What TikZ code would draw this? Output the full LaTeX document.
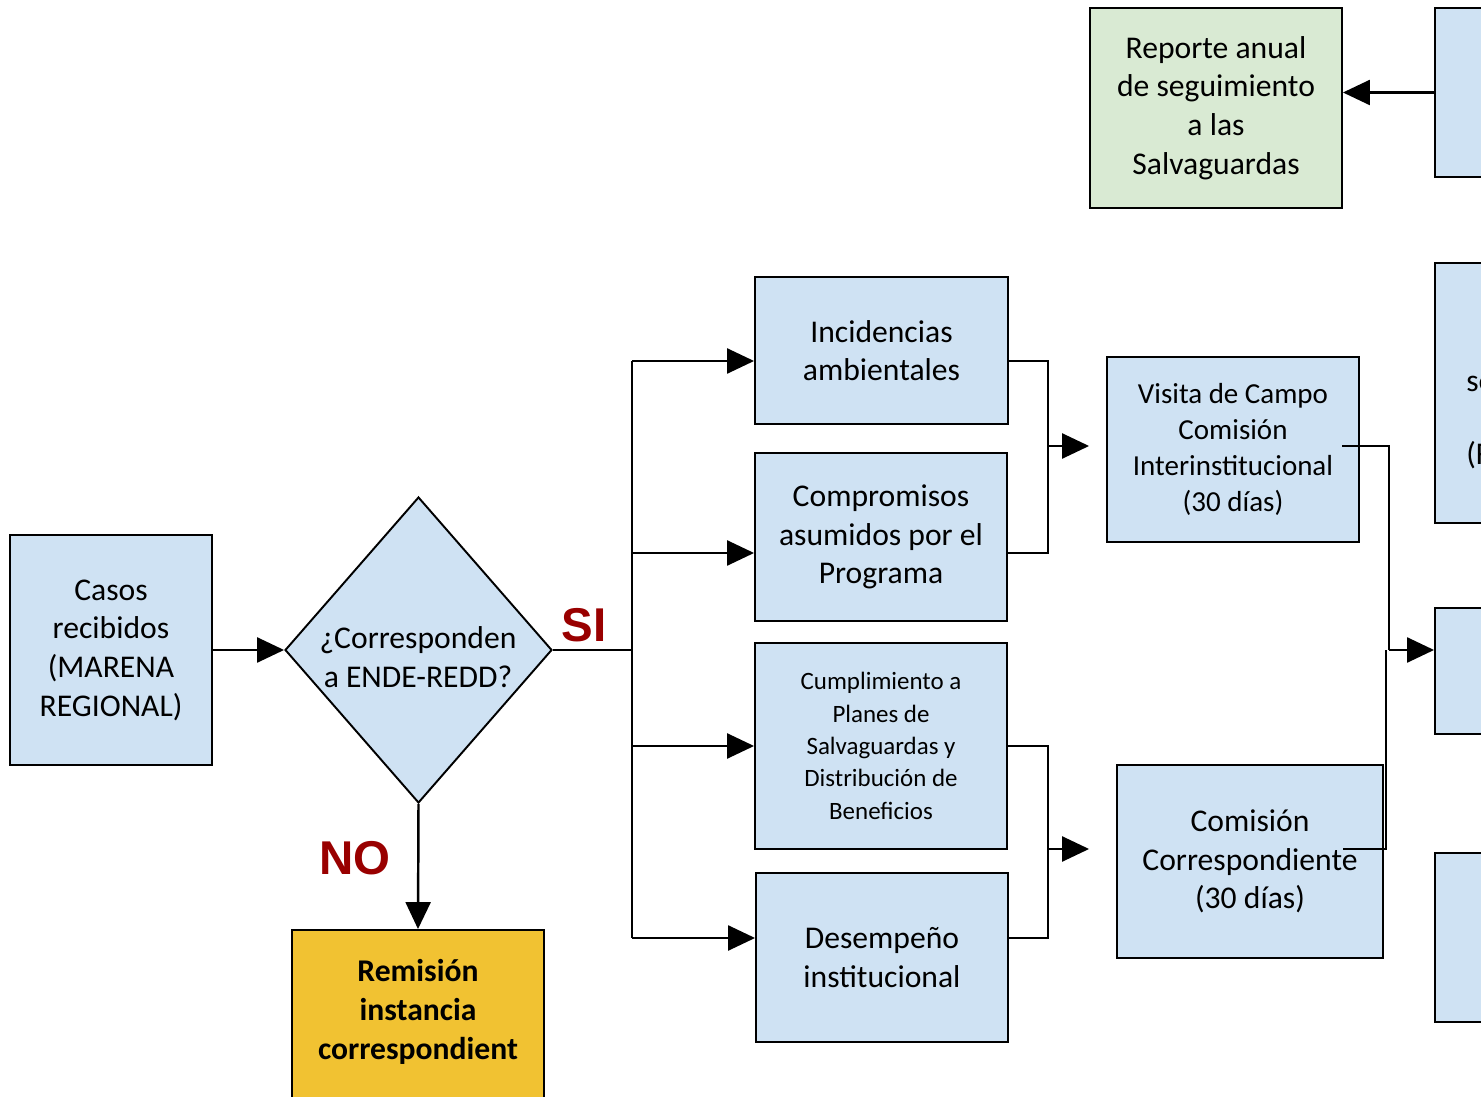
\documentclass[tikz,border=0pt]{standalone}
\usepackage{fontspec}
\setmainfont{Carlito}
\newfontfamily\answerfont{Liberation Sans}
\usetikzlibrary{arrows.meta,shapes.geometric}
\definecolor{boxblue}{HTML}{CFE2F3}
\definecolor{boxgreen}{HTML}{D9EAD3}
\definecolor{boxyellow}{HTML}{F1C232}
\definecolor{answerred}{HTML}{990000}
\begin{document}
\begin{tikzpicture}[x=0.02cm,y=-0.02cm,
  box/.style={draw=black, line width=1.1pt, fill=boxblue, align=center, inner sep=0pt,
    font=\fontsize{18}{22}\selectfont},
  smalltext/.style={font=\fontsize{14.2}{18.4}\selectfont},
  midtext/.style={font=\fontsize{16.5}{20.4}\selectfont},
  link/.style={line width=1.4pt},
  bracket/.style={line width=1.1pt},
  arr/.style={link, -{Triangle[length=0.54cm,width=0.5cm]}},
  answer/.style={font=\answerfont\bfseries\fontsize{27}{30}\selectfont, text=answerred}]
\useasboundingbox (0,0) rectangle (1481,1097);
\clip (0,0) rectangle (1481,1097);

% entry and decision
\node[box, minimum width=4.04cm, minimum height=4.6cm] (casos) at (111,650)
  {Casos\\recibidos\\(MARENA\\REGIONAL)};
\node[diamond, draw=black, line width=1.1pt, fill=boxblue, inner sep=0pt,
  minimum width=5.34cm, minimum height=6.12cm] (dec) at (418.5,650) {};
\node[align=center, font=\fontsize{18}{22}\selectfont] (dect) at (418,657)
  {¿Corresponden\\a ENDE-REDD?};

% rejected branch
\node[box, fill=boxyellow, minimum width=5.04cm, minimum height=4cm] (rem) at (418,1030) {};
\node[align=center, font=\bfseries\fontsize{18}{22}\selectfont] (remt) at (418,1012)
  {Remisión\\instancia\\correspondient};

% case categories
\node[box, minimum width=5.06cm, minimum height=2.94cm] (inc) at (881.5,350.5)
  {Incidencias\\ambientales};
\node[box, minimum width=5.04cm, minimum height=3.36cm] (comp) at (881,537)
  {Compromisos\\asumidos por el\\Programa};
\node[box, smalltext, minimum width=5.04cm, minimum height=4.12cm] (cump) at (881,746)
  {Cumplimiento a\\Planes de\\Salvaguardas y\\Distribución de\\Beneficios};
\node[box, minimum width=5.04cm, minimum height=3.38cm] (des) at (882,957.5)
  {Desempeño\\institucional};

% review instances
\node[box, midtext, minimum width=5.04cm, minimum height=3.7cm] (vis) at (1233,449.5)
  {Visita de Campo\\Comisión\\Interinstitucional\\(30 días)};
\node[box, minimum width=5.32cm, minimum height=3.86cm] (com) at (1250,861.5)
  {Comisión\\Correspondiente\\(30 días)};

% report and follow-up column
\node[box, fill=boxgreen, minimum width=5.04cm, minimum height=4cm] (rep) at (1216,108)
  {Reporte anual\\de seguimiento\\a las\\Salvaguardas};
\node[box, minimum width=1.92cm, minimum height=3.38cm] (r1) at (1483,92.5) {};
\node[box, minimum width=1.92cm, minimum height=5.2cm] (r2) at (1483,393) {};
\node[box, minimum width=1.92cm, minimum height=2.52cm] (r3) at (1483,671) {};
\node[box, minimum width=1.92cm, minimum height=3.38cm] (r4) at (1483,937.5) {};
\node[anchor=west, inner sep=0pt, font=\fontsize{18}{22}\selectfont] (r2a) at (1466,384) {se};
\node[anchor=west, inner sep=0pt, font=\fontsize{18}{22}\selectfont] (r2b) at (1466,455) {(F};

% answers
\node[answer] (si) at (584,625) {SI};
\node[answer] (no) at (355,858) {NO};

% connectors
\draw[arr] (casos.east) -- (dec.west);
\draw[arr] (dec.south) -- (rem.north);

\coordinate (sj) at (632,650);
\coordinate (s1) at (632,361);
\coordinate (s2) at (632,553);
\coordinate (s3) at (632,746);
\coordinate (s4) at (632,938);
\draw[link] (dec.east) -- (sj);
\draw[link] (s1) -- (s4);
\draw[arr] (s1) -- (s1 -| inc.west);
\draw[arr] (s2) -- (s2 -| comp.west);
\draw[arr] (s3) -- (s3 -| cump.west);
\draw[arr] (s4) -- (s4 -| des.west);

\coordinate (jA) at (1048,446);
\coordinate (jB) at (1048,849);
\draw[bracket] (inc.east |- s1) -| (jA) |- (comp.east |- s2);
\draw[bracket] (cump.east |- s3) -| (jB) |- (des.east |- s4);
\draw[arr, shorten >=0.34cm] (jA) -- (jA -| vis.west);
\draw[arr, shorten >=0.54cm] (jB) -- (jB -| com.west);

\coordinate (vo) at (1342,446);
\coordinate (co) at (1343,849);
\coordinate (jC) at (1389,650);
\coordinate (jD) at (1386,650);
\draw[bracket] (vo) -| (jC);
\draw[bracket] (co) -| (jD);
\draw[arr] (jC) -- (jC -| r3.west);

\draw[arr] (r1.west) -- (r1.west -| rep.east);
\end{tikzpicture}
\end{document}
